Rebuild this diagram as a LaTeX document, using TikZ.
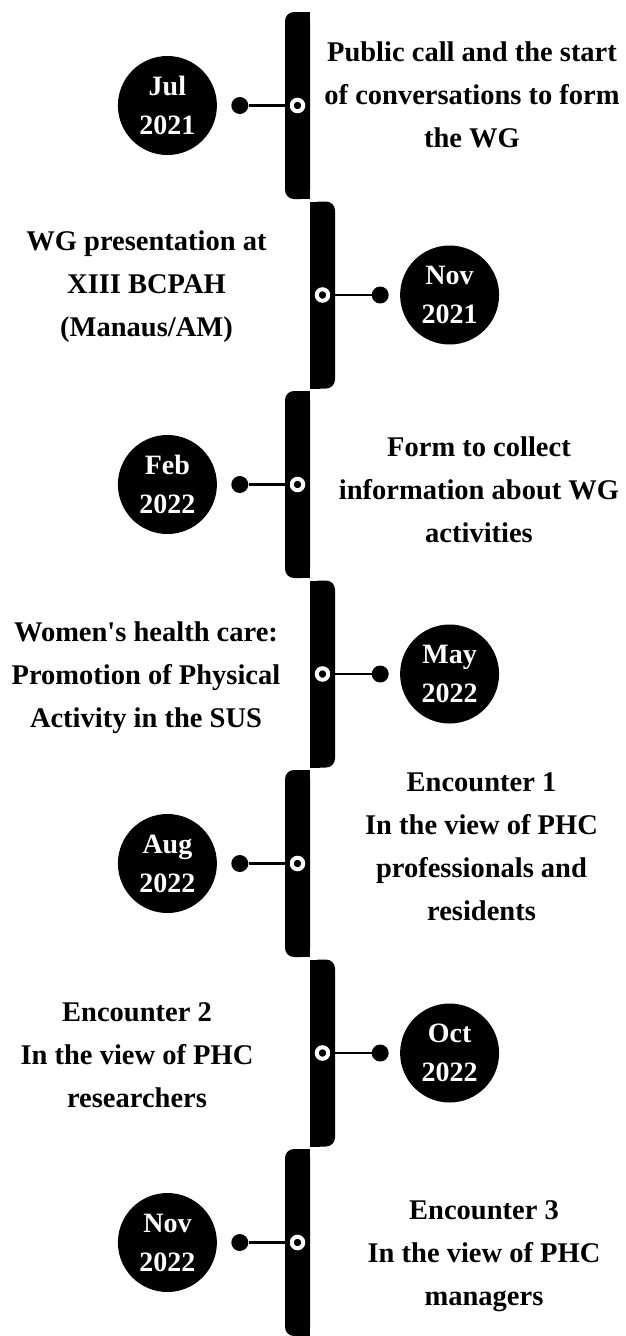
\documentclass[tikz,border=0pt]{standalone}
\usepackage{fontspec}
\setmainfont{Liberation Serif}
\usetikzlibrary{positioning}

\begin{document}
\begin{tikzpicture}[x=1pt, y=-1pt,
  hole/.style={circle, draw=white, line width=4pt, minimum size=11.5pt, inner sep=0pt},
  knob/.style={circle, fill=black, minimum size=17pt, inner sep=0pt},
  datedisc/.style={circle, fill=black, text=white, minimum size=99pt, inner sep=0pt, align=center, font=\fontsize{28}{39}\selectfont\bfseries},
  eventtext/.style={align=center, font=\fontsize{28.5}{43}\selectfont\bfseries},
  stem/.style={line width=2.5pt},
  barcorner/.style={rounded corners=9pt}]
  \useasboundingbox (0,0) rectangle (625,1336);
%
  % the stepped spine
  \fill[barcorner] (285,12) rectangle (310,199);
  \fill (300,12) rectangle (310,199);
  \fill[barcorner] (310,201.5) rectangle (335,388.5);
  \fill (310,201.5) rectangle (320,388.5);
  \fill[barcorner] (285,391) rectangle (310,578);
  \fill (300,391) rectangle (310,578);
  \fill[barcorner] (310,580.5) rectangle (335,767.5);
  \fill (310,580.5) rectangle (320,767.5);
  \fill[barcorner] (285,770) rectangle (310,957);
  \fill (300,770) rectangle (310,957);
  \fill[barcorner] (310,959.5) rectangle (335,1146.5);
  \fill (310,959.5) rectangle (320,1146.5);
  \fill[barcorner] (285,1149) rectangle (310,1336);
  \fill (300,1149) rectangle (310,1336);
%
  \node[hole] (H1) at (297.5,105.5) {};
  \node[knob, left=41.25pt of H1] (K1) {};
  \node[datedisc, left=14pt of K1] (M1) {Jul\\2021};
  \draw[stem] (K1) -- (H1);
  \node[eventtext] (E1) at (472,95) {Public call and the start\\of conversations to form\\the WG};
%
  \node[hole] (H2) at (322.5,295) {};
  \node[knob, right=41.25pt of H2] (K2) {};
  \node[datedisc, right=11pt of K2] (M2) {Nov\\2021};
  \draw[stem] (K2) -- (H2);
  \node[eventtext] (E2) at (146.5,287) {WG presentation at\\XIII BCPAH\\(Manaus/AM)};
%
  \node[hole] (H3) at (297.5,484.5) {};
  \node[knob, left=41.25pt of H3] (K3) {};
  \node[datedisc, left=14pt of K3] (M3) {Feb\\2022};
  \draw[stem] (K3) -- (H3);
  \node[eventtext] (E3) at (479,489.5) {Form to collect\\information about WG\\activities};
%
  \node[hole] (H4) at (322.5,674) {};
  \node[knob, right=41.25pt of H4] (K4) {};
  \node[datedisc, right=11pt of K4] (M4) {May\\2022};
  \draw[stem] (K4) -- (H4);
  \node[eventtext] (E4) at (146,677.5) {Women\textquotesingle s health care:\\Promotion of Physical\\Activity in the SUS};
%
  \node[hole] (H5) at (297.5,863.5) {};
  \node[knob, left=41.25pt of H5] (K5) {};
  \node[datedisc, left=14pt of K5] (M5) {Aug\\2022};
  \draw[stem] (K5) -- (H5);
  \node[eventtext] (E5) at (481.5,847) {Encounter 1\\In the view of PHC\\professionals and\\residents};
%
  \node[hole] (H6) at (322.5,1053) {};
  \node[knob, right=41.25pt of H6] (K6) {};
  \node[datedisc, right=11pt of K6] (M6) {Oct\\2022};
  \draw[stem] (K6) -- (H6);
  \node[eventtext] (E6) at (137,1055) {Encounter 2\\In the view of PHC\\researchers};
%
  \node[hole] (H7) at (297.5,1242.5) {};
  \node[knob, left=41.25pt of H7] (K7) {};
  \node[datedisc, left=14pt of K7] (M7) {Nov\\2022};
  \draw[stem] (K7) -- (H7);
  \node[eventtext] (E7) at (484,1256) {Encounter 3\\In the view of PHC\\managers};
\end{tikzpicture}
\end{document}
